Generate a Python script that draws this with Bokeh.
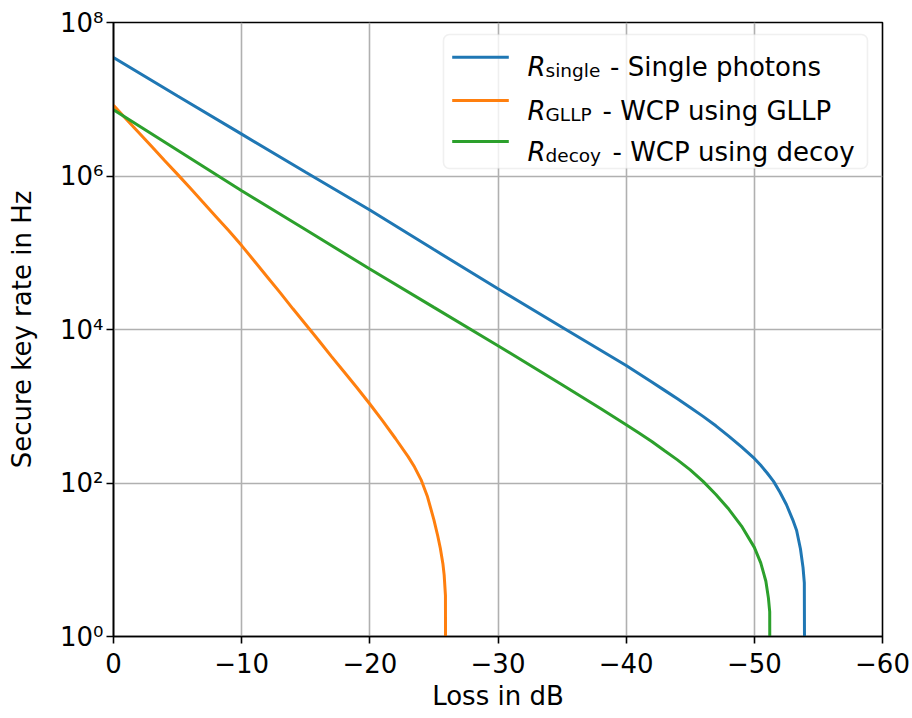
from bokeh.plotting import figure
from bokeh.models import Range1d, FixedTicker, BoxAnnotation, Label
from bokeh.embed import file_html
from bokeh.resources import INLINE

# ---------------- data ----------------
loss_single = [0, -5, -10, -15, -20, -25, -30, -35, -40, -41, -42, -43, -44, -45,
               -46, -47, -48, -49, -50, -50.5, -51, -51.5, -52, -52.5, -53, -53.3,
               -53.6, -53.8, -53.9, -53.95]
rate_single = [3.49e7, 1.10e7, 3.51e6, 1.12e6, 3.60e5, 1.10e5, 3.39e4, 1.07e4,
               3.39e3, 2.65e3, 2.07e3, 1.61e3, 1.25e3, 966, 738, 556, 409, 295,
               209, 170, 135, 105, 75.9, 52.5, 33.1, 24.0, 13.8, 7.9, 5.0, 0.01]

loss_gllp = [0, -1, -2, -3, -4, -5, -6, -7, -8, -9, -10, -11, -12, -13, -14, -15,
             -16, -17, -18, -19, -20, -21, -22, -23, -23.5, -24, -24.5, -25, -25.3,
             -25.5, -25.7, -25.8, -25.9, -25.92]
rate_gllp = [8.32e6, 5.50e6, 3.63e6, 2.40e6, 1.58e6, 1.05e6, 6.92e5, 4.52e5,
             2.95e5, 1.93e5, 1.24e5, 7.76e4, 4.84e4, 3.02e4, 1.86e4, 1.16e4,
             7.24e3, 4.47e3, 2.79e3, 1.74e3, 1.07e3, 646, 380, 219, 160, 110,
             66.1, 33.1, 20.4, 14.1, 8.9, 6.3, 3.4, 0.01]

loss_decoy = [0, -5, -10, -15, -20, -25, -30, -35, -38, -40, -41, -42, -43, -44,
              -45, -46, -47, -48, -49, -50, -50.5, -50.9, -51.1, -51.2, -51.23]
rate_decoy = [7.28e6, 2.16e6, 6.41e5, 1.99e5, 6.14e4, 1.94e4, 6.15e3, 1.91e3,
              933, 575, 447, 347, 263, 200, 148, 105, 70.8, 45.7, 27.5, 14.5,
              9.1, 5.25, 3.16, 2.09, 0.01]

series_names = ["single", "GLLP", "decoy"]
series_texts = ["- Single photons", "- WCP using GLLP", "- WCP using decoy"]
colors = ["#1f77b4", "#ff7f0e", "#2ca02c"]

x_tick_values = [0, -10, -20, -30, -40, -50, -60]
x_tick_labels = ["0", "\u221210", "\u221220", "\u221230", "\u221240", "\u221250", "\u221260"]
y_tick_values = [1, 1e2, 1e4, 1e6, 1e8]
y_tick_labels = ["10\u2070", "10\u00b2", "10\u2074", "10\u2076", "10\u2078"]

FONT = "DejaVu Sans"
FS = "26px"

p = figure(width=912, height=718, output_backend="svg", toolbar_location=None,
           x_range=Range1d(0, -60), y_range=Range1d(1, 1e8), y_axis_type="log",
           min_border_left=113, min_border_right=30, min_border_top=22,
           min_border_bottom=82)
p.background_fill_color = "white"
p.border_fill_color = "white"
p.outline_line_color = "black"
p.outline_line_width = 1.6

for xs, ys, c in [(loss_single, rate_single, colors[0]),
                  (loss_gllp, rate_gllp, colors[1]),
                  (loss_decoy, rate_decoy, colors[2])]:
    p.line(xs, ys, line_color=c, line_width=3)

p.xaxis.ticker = FixedTicker(ticks=x_tick_values)
p.xaxis.major_label_overrides = {float(v): l for v, l in zip(x_tick_values, x_tick_labels)}
p.yaxis.ticker = FixedTicker(ticks=y_tick_values)
p.yaxis.major_label_overrides = {float(v): l for v, l in zip(y_tick_values, y_tick_labels)}

for ax in (p.xaxis, p.yaxis):
    ax.axis_line_color = "black"
    ax.axis_line_width = 1.6
    ax.major_tick_line_color = "black"
    ax.major_tick_line_width = 1.6
    ax.major_tick_out = 7
    ax.major_tick_in = 0
    ax.minor_tick_out = 0
    ax.minor_tick_in = 0
    ax.major_label_text_font = FONT
    ax.major_label_text_font_size = FS
    ax.major_label_text_color = "black"
    ax.axis_label_text_font = FONT
    ax.axis_label_text_font_size = FS
    ax.axis_label_text_font_style = "normal"
    ax.axis_label_text_color = "black"

p.xaxis.axis_label = "Loss in dB"
p.yaxis.axis_label = "Secure key rate in Hz"
p.xaxis.major_label_standoff = 9
p.xaxis.axis_label_standoff = 5
p.yaxis.major_label_standoff = 3
p.yaxis.axis_label_standoff = 20

for g in (p.xgrid, p.ygrid):
    g.grid_line_color = "#b0b0b0"
    g.grid_line_width = 1.6

# ---------------- legend (drawn manually, frame screen units) ----------------
p.add_layout(BoxAnnotation(left=330, right=754, top=602, bottom=468,
                           left_units="screen", right_units="screen",
                           top_units="screen", bottom_units="screen",
                           fill_color="white", fill_alpha=0.8,
                           line_color="#cccccc", line_width=1.6,
                           border_radius=6, level="annotation"))

line_centers = [579.3, 536.0, 495.0]
baselines = [569.3, 526.0, 485.0]
text_starts = [496.6, 489.0, 499.0]
for i in range(3):
    yc = line_centers[i]
    p.add_layout(BoxAnnotation(left=338.7, right=395.3, bottom=yc - 1.5, top=yc + 1.5,
                               left_units="screen", right_units="screen",
                               top_units="screen", bottom_units="screen",
                               fill_color=colors[i], fill_alpha=1.0, line_alpha=0,
                               level="annotation"))
    p.add_layout(Label(x=414, y=baselines[i], x_units="screen", y_units="screen",
                       text="R", text_font=FONT, text_font_size=FS,
                       text_font_style="italic", text_baseline="alphabetic",
                       text_color="black", level="annotation"))
    p.add_layout(Label(x=432, y=baselines[i] - 3.5, x_units="screen", y_units="screen",
                       text=series_names[i], text_font=FONT, text_font_size="18.5px",
                       text_baseline="alphabetic", text_color="black",
                       level="annotation"))
    p.add_layout(Label(x=text_starts[i], y=baselines[i], x_units="screen", y_units="screen",
                       text=series_texts[i], text_font=FONT, text_font_size=FS,
                       text_baseline="alphabetic", text_color="black",
                       level="annotation"))

open("out.html", "w").write(file_html(p, INLINE))
